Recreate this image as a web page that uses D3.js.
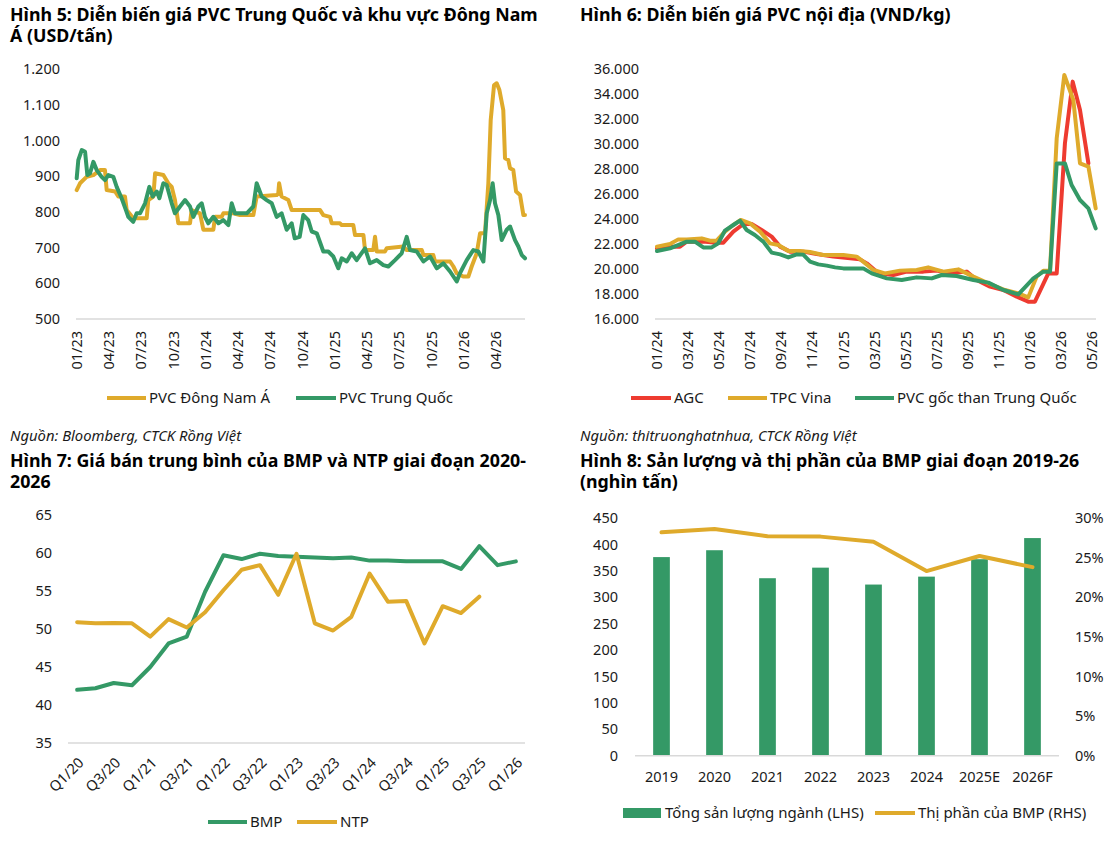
<!DOCTYPE html>
<html>
<head>
<meta charset="utf-8">
<script src="https://cdn.jsdelivr.net/npm/d3@7"></script>
<style>
body { margin: 0; background: #fff; }
text { font-family: "Noto Sans", sans-serif; fill: #1a1a1a; }
.title { font-size: 17.8px; font-weight: bold; fill: #000; }
.tick-label { font-size: 14.5px; }
.legend { font-size: 15px; }
.source { font-size: 14.8px; font-style: italic; }
</style>
</head>
<body>
<svg id="chart" width="1116" height="841"></svg>
<script>
// Hinh 5: months since 01/2023, USD/tan
const fig5Ticks = ["01/23","04/23","07/23","10/23","01/24","04/24","07/24","10/24","01/25","04/25","07/25","10/25","01/26","04/26"];
const fig5SEAsia = [[0,861],[0.31,880],[0.92,898],[1.55,903],[2.17,917],[2.63,917],[2.79,861],[3.57,857],[3.87,843],[4.49,843],[4.65,805],[5.26,782],[6.51,782],[6.66,833],[7.13,843],[7.29,908],[8.06,903],[8.52,880],[8.84,870],[9.14,833],[9.45,768],[10.54,768],[10.69,805],[11.47,796],[11.78,750],[12.71,750],[12.87,786],[13.48,786],[13.64,796],[14.57,796],[15.19,791],[16.43,791],[16.74,843],[18.6,847],[18.75,852],[18.83,880],[19.06,843],[19.69,833],[20.0,805],[22.64,805],[22.94,791],[23.56,786],[23.72,768],[24.49,768],[24.65,763],[25.73,763],[25.89,735],[26.67,735],[26.82,693],[27.59,693],[27.75,730],[27.91,689],[28.67,689],[28.84,698],[30.38,703],[30.7,693],[32.1,693],[32.25,679],[33.17,679],[33.33,661],[34.73,661],[35.04,647],[35.35,628],[35.96,619],[36.43,619],[36.74,647],[37.21,684],[37.52,740],[37.98,740],[38.29,880],[38.51,1057],[38.82,1155],[39.07,1160],[39.32,1141],[39.68,1085],[39.84,950],[40.15,945],[40.31,922],[40.61,917],[40.87,857],[41.24,847],[41.55,791],[41.7,791]];
const fig5China = [[0,894],[0.15,945],[0.47,973],[0.78,968],[0.99,903],[1.24,908],[1.55,940],[1.86,917],[2.32,898],[2.63,889],[2.94,903],[3.41,898],[3.72,870],[4.18,838],[4.58,805],[4.8,786],[5.26,772],[5.58,796],[5.89,796],[6.36,824],[6.76,870],[7.07,843],[7.45,857],[7.69,838],[8.06,880],[8.37,875],[8.84,824],[9.14,796],[9.61,815],[10.08,833],[10.54,815],[10.85,786],[11.32,815],[11.63,824],[11.93,786],[12.24,768],[12.71,786],[13.18,768],[13.64,777],[14.11,763],[14.42,824],[14.72,796],[15.19,796],[15.82,796],[16.43,815],[16.74,880],[17.21,843],[17.67,833],[18.14,824],[18.6,786],[19.06,796],[19.53,750],[20.0,768],[20.28,726],[20.74,730],[21.08,791],[21.54,777],[21.86,745],[22.33,740],[22.94,689],[23.4,689],[23.87,675],[24.33,642],[24.65,670],[25.12,661],[25.58,684],[26.04,665],[26.82,698],[27.28,656],[27.91,665],[28.52,651],[28.99,647],[29.61,665],[30.23,684],[30.7,730],[31.0,693],[31.63,689],[32.25,661],[32.87,675],[33.49,642],[34.1,656],[34.73,633],[35.35,605],[35.65,628],[36.28,665],[36.58,679],[36.89,693],[37.36,689],[37.83,661],[38.14,796],[38.45,833],[38.69,880],[38.91,824],[39.22,791],[39.53,721],[40.0,750],[40.31,759],[40.77,721],[41.08,703],[41.4,679],[41.7,670]];

// Hinh 6: months since 01/2024, VND/kg
const fig6Ticks = ["01/24","03/24","05/24","07/24","09/24","11/24","01/25","03/25","05/25","07/25","09/25","11/25","01/26","03/26","05/26"];
const fig6AGC = [[0,21650],[0.84,21790],[1.48,21790],[1.91,22190],[2.97,22190],[3.63,22110],[4.27,22110],[4.91,22990],[5.56,23600],[6.09,23600],[6.73,23120],[7.38,22590],[7.92,21790],[8.56,21390],[9.41,21390],[10.28,21200],[11.34,20990],[13.06,20770],[13.5,20450],[14.25,19650],[15.21,19520],[16.06,19790],[17.14,19790],[18.0,19870],[18.85,19650],[19.93,19790],[20.57,19120],[21.43,18590],[22.29,18320],[23.15,17790],[23.89,17390],[24.32,17390],[25.18,19650],[25.72,19650],[26.25,30050],[26.75,34990],[27.22,32720],[27.76,28450]];
const fig6TPC = [[0,21790],[0.84,22000],[1.37,22370],[1.91,22370],[2.88,22450],[3.41,22270],[3.84,22270],[4.37,22990],[4.91,23520],[5.39,23920],[5.99,23650],[6.63,22990],[7.27,22050],[7.81,21920],[8.45,21440],[9.21,21440],[9.85,21360],[10.7,21120],[11.57,21120],[11.99,21120],[12.85,20990],[13.27,20590],[13.92,19920],[14.67,19650],[15.63,19870],[16.71,19920],[17.45,20130],[18.43,19790],[19.39,19970],[20.36,19390],[21.43,18800],[22.39,18320],[23.25,18050],[23.89,17730],[24.43,19390],[24.86,19870],[25.29,19870],[25.72,30450],[26.21,35520],[26.79,33520],[27.22,28450],[27.76,28190],[28.23,24850]];
const fig6China = [[0,21440],[0.84,21650],[1.91,22190],[2.44,22190],[2.98,21730],[3.52,21730],[3.94,22050],[4.37,23070],[4.91,23520],[5.34,23870],[5.77,23120],[6.3,22720],[6.84,22190],[7.38,21310],[7.92,21170],[8.45,20930],[8.99,21170],[9.41,21150],[9.85,20590],[10.38,20370],[10.92,20270],[11.46,20130],[11.99,20050],[13.27,20050],[13.82,19650],[14.79,19250],[15.75,19120],[16.71,19330],[17.68,19250],[18.32,19520],[19.28,19440],[20.36,19120],[21.32,18910],[22.29,18320],[23.25,17970],[24.22,19250],[24.86,19790],[25.29,19790],[25.72,28450],[26.25,28450],[26.68,26720],[27.22,25520],[27.76,24850],[28.23,23250]];

// Hinh 7: quarterly average selling price
const fig7Quarters = ["Q1/20","Q2/20","Q3/20","Q4/20","Q1/21","Q2/21","Q3/21","Q4/21","Q1/22","Q2/22","Q3/22","Q4/22","Q1/23","Q2/23","Q3/23","Q4/23","Q1/24","Q2/24","Q3/24","Q4/24","Q1/25","Q2/25","Q3/25","Q4/25","Q1/26"];
const fig7BMP = [42.0,42.2,42.9,42.6,45.0,48.1,49.0,54.9,59.7,59.2,59.9,59.6,59.5,59.4,59.3,59.4,59.0,59.0,58.9,58.9,58.9,57.9,60.9,58.4,58.9];
const fig7NTP = [50.9,50.75,50.8,50.75,49.0,51.3,50.2,52.2,55.1,57.8,58.4,54.5,59.9,50.75,49.8,51.6,57.3,53.6,53.7,48.1,53.0,52.1,54.25];

// Hinh 8: output (nghin tan) and BMP market share
const fig8Years = ["2019","2020","2021","2022","2023","2024","2025E","2026F"];
const fig8Output = [376,389,336,356,324,339,372,412];
const fig8Share = [0.282,0.286,0.277,0.2765,0.270,0.233,0.252,0.238];

const YELLOW = "#DFAA2B", GREEN = "#349966", RED = "#EE3B30", GRID = "#d9d9d9";
const vn = d3.formatLocale({decimal: ",", thousands: ".", grouping: [3], currency: ["", ""]});

const svg = d3.select("#chart");

var addTitle = function (lines, x, y) {
    lines.forEach(function (s, i) {
        svg.append("text").attr("class", "title")
            .attr("x", x).attr("y", y + i * 21).text(s);
    });
};

var addYAxis = function (axis, x) {
    var g = svg.append("g")
        .attr("transform", "translate(" + x + ",0)")
        .call(axis.tickSize(0).tickPadding(0));
    g.select(".domain").remove();
    g.selectAll("text").attr("class", "tick-label");
    return g;
};

var baseline = function (x1, x2, y) {
    svg.append("line")
        .attr("x1", x1).attr("x2", x2).attr("y1", y).attr("y2", y)
        .attr("stroke", GRID).attr("stroke-width", 1.5);
};

var legendLine = function (x1, x2, y, color, label) {
    svg.append("line")
        .attr("x1", x1).attr("x2", x2).attr("y1", y).attr("y2", y)
        .attr("stroke", color).attr("stroke-width", 4);
    return svg.append("text").attr("class", "legend")
        .attr("x", x2 + 3).attr("y", y).attr("dy", "0.35em").text(label);
};

var drawPath = function (data, line, color) {
    svg.append("path")
        .attr("d", line(data))
        .attr("fill", "none")
        .attr("stroke", color)
        .attr("stroke-width", 4)
        .attr("stroke-linejoin", "round")
        .attr("stroke-linecap", "round");
};

var verticalLabels = function (labels, xPos, y) {
    labels.forEach(function (s, i) {
        svg.append("text").attr("class", "tick-label")
            .attr("transform", "translate(" + xPos(i) + "," + y + ") rotate(-90)")
            .attr("text-anchor", "end")
            .attr("dy", "0.35em")
            .text(s);
    });
};

// ---------- Hinh 5 ----------
addTitle(["Hình 5: Diễn biến giá PVC Trung Quốc và khu vực Đông Nam", "Á (USD/tấn)"], 10, 21);
var x5 = d3.scaleLinear().domain([0, 41.7]).range([76.7, 525]);
var y5 = d3.scaleLinear().domain([500, 1200]).range([319, 69]);
addYAxis(d3.axisLeft(y5).tickValues(d3.range(500, 1201, 100)).tickFormat(vn.format(",.0f")), 60);
baseline(76, 525, y5(500));
verticalLabels(fig5Ticks, function (i) { return x5(i * 3); }, 331);
var line5 = d3.line().x(function (d) { return x5(d[0]); }).y(function (d) { return y5(d[1]); });
drawPath(fig5SEAsia, line5, YELLOW);
drawPath(fig5China, line5, GREEN);
legendLine(107, 146, 398, YELLOW, "PVC Đông Nam Á");
legendLine(296, 336, 398, GREEN, "PVC Trung Quốc");
svg.append("text").attr("class", "source").attr("x", 10).attr("y", 441).text("Nguồn: Bloomberg, CTCK Rồng Việt");

// ---------- Hinh 6 ----------
addTitle(["Hình 6: Diễn biến giá PVC nội địa (VND/kg)"], 580, 21);
var x6 = d3.scaleLinear().domain([0, 28.23]).range([657, 1095.7]);
var y6 = d3.scaleLinear().domain([16000, 36000]).range([319, 69]);
addYAxis(d3.axisLeft(y6).tickValues(d3.range(16000, 36001, 2000)).tickFormat(vn.format(",.0f")), 639);
baseline(655, 1096, y6(16000));
verticalLabels(fig6Ticks, function (i) { return x6(i * 2); }, 331);
var line6 = d3.line().x(function (d) { return x6(d[0]); }).y(function (d) { return y6(d[1]); });
drawPath(fig6AGC, line6, RED);
drawPath(fig6TPC, line6, YELLOW);
drawPath(fig6China, line6, GREEN);
legendLine(631, 671, 398, RED, "AGC");
legendLine(728, 767, 398, YELLOW, "TPC Vina");
legendLine(855, 894, 398, GREEN, "PVC gốc than Trung Quốc");
svg.append("text").attr("class", "source").attr("x", 580).attr("y", 441).text("Nguồn: thitruonghatnhua, CTCK Rồng Việt");

// ---------- Hinh 7 ----------
addTitle(["Hình 7: Giá bán trung bình của BMP và NTP giai đoạn 2020-", "2026"], 10, 467);
var x7 = d3.scalePoint().domain(fig7Quarters).range([68, 525]).padding(0.5);
var y7 = d3.scaleLinear().domain([35, 65]).range([743, 515]);
addYAxis(d3.axisLeft(y7).tickValues(d3.range(35, 66, 5)), 52);
baseline(68, 525, y7(35));
fig7Quarters.forEach(function (q, i) {
    if (i % 2) return;
    svg.append("text").attr("class", "tick-label")
        .attr("transform", "translate(" + (x7(q) + 4) + ",760) rotate(-45)")
        .attr("text-anchor", "end")
        .attr("dy", "0.35em")
        .text(q);
});
var line7 = d3.line().x(function (d, i) { return x7(fig7Quarters[i]); }).y(function (d) { return y7(d); });
drawPath(fig7BMP, line7, GREEN);
drawPath(fig7NTP, line7, YELLOW);
legendLine(208, 247, 822, GREEN, "BMP");
legendLine(297, 337, 822, YELLOW, "NTP");

// ---------- Hinh 8 ----------
addTitle(["Hình 8: Sản lượng và thị phần của BMP giai đoạn 2019-26", "(nghìn tấn)"], 580, 467);
var x8 = d3.scaleBand().domain(fig8Years).range([635, 1059]);
var yL = d3.scaleLinear().domain([0, 450]).range([755.7, 518]);
var yR = d3.scaleLinear().domain([0, 0.30]).range([755.7, 518]);
addYAxis(d3.axisLeft(yL).tickValues(d3.range(0, 451, 50)), 618);
addYAxis(d3.axisRight(yR).tickValues(d3.range(0, 0.301, 0.05)).tickFormat(d3.format(".0%")), 1075);
var barW = 16.7;
svg.selectAll("rect.bar")
    .data(fig8Output)
    .enter()
    .append("rect")
    .attr("class", "bar")
    .attr("x", function (d, i) { return x8(fig8Years[i]) + (x8.bandwidth() - barW) / 2; })
    .attr("y", function (d) { return yL(d); })
    .attr("width", barW)
    .attr("height", function (d) { return yL(0) - yL(d); })
    .attr("fill", GREEN);
baseline(635, 1059, yL(0));
fig8Years.forEach(function (yr) {
    svg.append("text").attr("class", "tick-label")
        .attr("x", x8(yr) + x8.bandwidth() / 2).attr("y", 777)
        .attr("dy", "0.35em").attr("text-anchor", "middle").text(yr);
});
var line8 = d3.line()
    .x(function (d, i) { return x8(fig8Years[i]) + x8.bandwidth() / 2; })
    .y(function (d) { return yR(d); });
drawPath(fig8Share, line8, YELLOW);
svg.append("rect").attr("x", 623).attr("y", 808).attr("width", 38).attr("height", 10).attr("fill", GREEN);
svg.append("text").attr("class", "legend").attr("x", 665).attr("y", 813).attr("dy", "0.35em")
    .text("Tổng sản lượng ngành (LHS)");
legendLine(875, 915, 813, YELLOW, "Thị phần của BMP (RHS)");
</script>
</body>
</html>
